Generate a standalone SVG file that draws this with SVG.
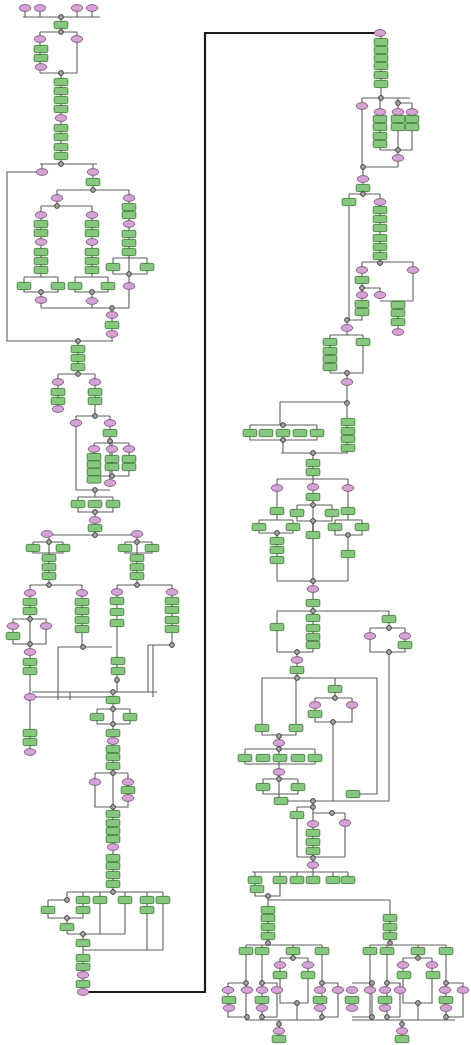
<svg xmlns="http://www.w3.org/2000/svg" xmlns:xlink="http://www.w3.org/1999/xlink" width="471" height="1045" viewBox="0 0 471 1045">
<style>
.c{fill:none;stroke:#5e5e5e;stroke-width:1.1}
.k{fill:none;stroke:#1a1a1a;stroke-width:2.2}
.t{fill:#86c67e;stroke:#3e7d39;stroke-width:0.9}
.e{fill:#d6a4d4;stroke:#7a5a7e;stroke-width:0.9}
.g{fill:#a8a8a8;stroke:#333;stroke-width:0.9}
</style>
<defs>
<rect id="T" class="t" x="-6.8" y="-3.6" width="13.6" height="7.2" rx="1.2"/>
<ellipse id="E" class="e" rx="5.8" ry="3.4"/>
<circle id="G" class="g" r="2.4"/>
</defs>
<rect width="471" height="1045" fill="#fff"/>
<g id="connectors">
<path class="c" d="M25,8V17M40,8V17M77,8V17M92,8V17M23,17H100M61,17V32M40,32H77M40,32V73M77,32V73M40,73H77M61,73V164M40,164H97M42,164V172M93,164V190"/>
<path class="c" d="M42,172H7V341H113"/>
<path class="c" d="M57,190H129M57,190V206M41,206H92M41,206V277M92,206V277M24,277H58M24,277V292H58V277M41,292V308M75,277H108M75,277V292H108V277M92,292V308M41,308H129M129,190V308M113,258H147M113,258V274H147V258M112,308V341M78,341V374"/>
<path class="c" d="M58,374H95M58,374V409M95,374V416M76,416H110M76,416V490M110,416V483M94,443H129M94,443V479M112,440V476M129,443V476M94,476H129M76,490H110M95,490V497M78,497H113M78,497V512H113V497M95,512V535"/>
<path class="c" d="M47,535H137M49,535V585M33,542H63M33,542V553H63V542M30,585H82M30,585V697M82,585V647M13,619H46M13,619V644H46V619M137,535V585M125,542H152M125,542V553H152V542M117,585H172M117,585V692M172,585V645M148,645H172M58,647H112M58,647V700M148,645V692M153,645V697M32,692H157M32,697H113M70,692V700M113,692V892M30,697V753"/>
<path class="c" d="M97,709H130M97,709V724H130V709M95,773H128M95,773V807H128V773M67,892H163M67,892V900M83,892V900M100,892V934M125,892V934M147,892V950M163,892V950M48,900H67M48,900V918H83V900M67,918V934M67,934H125M83,934V992M83,950H163"/>
<path class="k" d="M82,992H205V33H379"/>
<path class="c" d="M381,33V99M362,98H410M362,98V167M380,98V150M398,98V150M412,103V150M398,103H412M380,150H412M398,150V167M362,167H398M363,167V194M349,194H380M349,194V320M380,194V262M362,262H413M362,262V312M413,262V301M380,301H413M398,301V332M362,288H380V295M347,320H362V312M347,320V335M330,335H363M330,335V373M363,335V373M330,373H363M347,373V403"/>
<path class="c" d="M280,402H347M280,402V425M347,403V453M250,425H317M250,425V440H317V425M283,440V453M281,453H348M313,453V479M277,479H348M277,479V520M348,479V520M313,479V535M297,505H332M297,505V521H332V505M259,520H293M259,520V533H293V520M277,533V581M335,520H362M335,520V535H362V520M348,535V581"/>
<path class="c" d="M313,521V581M277,581H348M313,581V652M277,611H389M277,611V652H313M297,652V678M389,611V628M370,628H405M370,628V652H405V628M389,652V801"/>
<path class="c" d="M262,678H377M262,678V735H296V678M377,678V794H353M335,678V698M315,698H352M315,698V722H352V698M333,722V801M279,735V801M245,749H315M245,749V764H315V749M263,779H298M263,779V794H298V779M281,801H389M313,801V872M297,807H313M297,807V857M313,813H345M345,813V857M297,857H345M252,872H348"/>
<path class="c" d="M255,872V896H280V872M297,872V880M313,872V880M333,872V880M348,872V880M268,896V943M268,900H390M390,900V943M246,945H322M246,945V1020M262,945V1020M293,945V958M322,945V1020M280,958H308M280,958V975M308,958V975M280,975V1003H308V975M297,1003V1020M228,983H247M228,983V1017H247M262,983H277V1017H262M320,983H338V1017H320M246,1020H322M279,1020V1039"/>
<path class="c" d="M370,945H446M370,945V1020M387,945V1020M418,945V958M446,945V1020M403,958H432M403,958V1003H432V958M418,1003V1020M352,983H372V1017H352M385,983H400V1017H385M445,983H463V1017H445M352,1020H455M402,1020V1039"/>
</g>
<g id="n1"><use href="#E" x="25" y="8"/></g>
<g id="n2"><use href="#E" x="40" y="8"/></g>
<g id="n3"><use href="#E" x="77" y="8"/></g>
<g id="n4"><use href="#E" x="92" y="8"/></g>
<g id="n5"><use href="#G" x="61" y="17"/></g>
<g id="n6"><use href="#T" x="61" y="25"/></g>
<g id="n7"><use href="#G" x="61" y="32"/></g>
<g id="n8"><use href="#E" x="40" y="39"/></g>
<g id="n9"><use href="#T" x="41" y="49"/></g>
<g id="n10"><use href="#T" x="41" y="58"/></g>
<g id="n11"><use href="#E" x="41" y="67"/></g>
<g id="n12"><use href="#E" x="77" y="39"/></g>
<g id="n13"><use href="#G" x="61" y="73"/></g>
<g id="n14"><use href="#T" x="61" y="82"/></g>
<g id="n15"><use href="#T" x="61" y="91"/></g>
<g id="n16"><use href="#T" x="61" y="100"/></g>
<g id="n17"><use href="#T" x="61" y="109"/></g>
<g id="n18"><use href="#E" x="61" y="118"/></g>
<g id="n19"><use href="#T" x="61" y="128"/></g>
<g id="n20"><use href="#T" x="61" y="137"/></g>
<g id="n21"><use href="#T" x="61" y="147"/></g>
<g id="n22"><use href="#T" x="61" y="156"/></g>
<g id="n23"><use href="#G" x="61" y="164"/></g>
<g id="n24"><use href="#E" x="42" y="172"/></g>
<g id="n25"><use href="#E" x="93" y="172"/></g>
<g id="n26"><use href="#T" x="93" y="182"/></g>
<g id="n27"><use href="#G" x="93" y="190"/></g>
<g id="n28"><use href="#E" x="57" y="198"/></g>
<g id="n29"><use href="#G" x="57" y="206"/></g>
<g id="n30"><use href="#E" x="41" y="215"/></g>
<g id="n31"><use href="#T" x="41" y="224"/></g>
<g id="n32"><use href="#T" x="41" y="233"/></g>
<g id="n33"><use href="#E" x="41" y="242"/></g>
<g id="n34"><use href="#T" x="41" y="252"/></g>
<g id="n35"><use href="#T" x="41" y="261"/></g>
<g id="n36"><use href="#T" x="41" y="270"/></g>
<g id="n37"><use href="#T" x="24" y="286"/></g>
<g id="n38"><use href="#T" x="58" y="286"/></g>
<g id="n39"><use href="#G" x="41" y="292"/></g>
<g id="n40"><use href="#E" x="41" y="300"/></g>
<g id="n41"><use href="#E" x="92" y="215"/></g>
<g id="n42"><use href="#T" x="92" y="224"/></g>
<g id="n43"><use href="#T" x="92" y="233"/></g>
<g id="n44"><use href="#E" x="92" y="242"/></g>
<g id="n45"><use href="#T" x="92" y="252"/></g>
<g id="n46"><use href="#T" x="92" y="261"/></g>
<g id="n47"><use href="#T" x="92" y="270"/></g>
<g id="n48"><use href="#T" x="75" y="286"/></g>
<g id="n49"><use href="#T" x="108" y="286"/></g>
<g id="n50"><use href="#G" x="92" y="292"/></g>
<g id="n51"><use href="#E" x="92" y="301"/></g>
<g id="n52"><use href="#E" x="129" y="198"/></g>
<g id="n53"><use href="#T" x="129" y="207"/></g>
<g id="n54"><use href="#T" x="129" y="215"/></g>
<g id="n55"><use href="#E" x="129" y="224"/></g>
<g id="n56"><use href="#T" x="129" y="234"/></g>
<g id="n57"><use href="#T" x="129" y="243"/></g>
<g id="n58"><use href="#T" x="129" y="252"/></g>
<g id="n59"><use href="#T" x="113" y="267"/></g>
<g id="n60"><use href="#T" x="147" y="267"/></g>
<g id="n61"><use href="#G" x="129" y="274"/></g>
<g id="n62"><use href="#E" x="129" y="286"/></g>
<g id="n63"><use href="#G" x="112" y="308"/></g>
<g id="n64"><use href="#E" x="112" y="315"/></g>
<g id="n65"><use href="#T" x="112" y="325"/></g>
<g id="n66"><use href="#E" x="112" y="334"/></g>
<g id="n67"><use href="#G" x="78" y="341"/></g>
<g id="n68"><use href="#T" x="78" y="349"/></g>
<g id="n69"><use href="#T" x="78" y="358"/></g>
<g id="n70"><use href="#T" x="78" y="367"/></g>
<g id="n71"><use href="#G" x="78" y="374"/></g>
<g id="n72"><use href="#E" x="58" y="382"/></g>
<g id="n73"><use href="#T" x="58" y="392"/></g>
<g id="n74"><use href="#T" x="58" y="401"/></g>
<g id="n75"><use href="#E" x="58" y="409"/></g>
<g id="n76"><use href="#E" x="95" y="382"/></g>
<g id="n77"><use href="#T" x="95" y="392"/></g>
<g id="n78"><use href="#T" x="95" y="401"/></g>
<g id="n79"><use href="#G" x="95" y="416"/></g>
<g id="n80"><use href="#E" x="76" y="423"/></g>
<g id="n81"><use href="#E" x="110" y="423"/></g>
<g id="n82"><use href="#T" x="110" y="433"/></g>
<g id="n83"><use href="#G" x="110" y="441"/></g>
<g id="n84"><use href="#E" x="94" y="449"/></g>
<g id="n85"><use href="#E" x="112" y="449"/></g>
<g id="n86"><use href="#E" x="129" y="449"/></g>
<g id="n87"><use href="#T" x="94" y="457"/></g>
<g id="n88"><use href="#T" x="94" y="464.5"/></g>
<g id="n89"><use href="#T" x="94" y="472"/></g>
<g id="n90"><use href="#T" x="94" y="479.5"/></g>
<g id="n91"><use href="#T" x="112" y="459"/></g>
<g id="n92"><use href="#T" x="112" y="467"/></g>
<g id="n93"><use href="#T" x="129" y="459"/></g>
<g id="n94"><use href="#T" x="129" y="467"/></g>
<g id="n95"><use href="#G" x="112" y="476"/></g>
<g id="n96"><use href="#E" x="110" y="483"/></g>
<g id="n97"><use href="#G" x="95" y="490"/></g>
<g id="n98"><use href="#T" x="78" y="504"/></g>
<g id="n99"><use href="#T" x="95" y="504"/></g>
<g id="n100"><use href="#T" x="113" y="504"/></g>
<g id="n101"><use href="#G" x="95" y="512"/></g>
<g id="n102"><use href="#E" x="95" y="520"/></g>
<g id="n103"><use href="#T" x="95" y="528"/></g>
<g id="n104"><use href="#G" x="95" y="535"/></g>
<g id="n105"><use href="#E" x="47" y="534"/></g>
<g id="n106"><use href="#G" x="49" y="542"/></g>
<g id="n107"><use href="#T" x="33" y="548"/></g>
<g id="n108"><use href="#T" x="63" y="548"/></g>
<g id="n109"><use href="#T" x="49" y="558"/></g>
<g id="n110"><use href="#T" x="49" y="567"/></g>
<g id="n111"><use href="#T" x="49" y="576"/></g>
<g id="n112"><use href="#G" x="49" y="585"/></g>
<g id="n113"><use href="#E" x="30" y="593"/></g>
<g id="n114"><use href="#T" x="30" y="602"/></g>
<g id="n115"><use href="#T" x="30" y="611"/></g>
<g id="n116"><use href="#G" x="30" y="619"/></g>
<g id="n117"><use href="#E" x="13" y="626"/></g>
<g id="n118"><use href="#E" x="46" y="626"/></g>
<g id="n119"><use href="#T" x="13" y="636"/></g>
<g id="n120"><use href="#G" x="30" y="644"/></g>
<g id="n121"><use href="#E" x="30" y="652"/></g>
<g id="n122"><use href="#T" x="30" y="662"/></g>
<g id="n123"><use href="#T" x="30" y="671"/></g>
<g id="n124"><use href="#E" x="30" y="697"/></g>
<g id="n125"><use href="#T" x="30" y="733"/></g>
<g id="n126"><use href="#T" x="30" y="742"/></g>
<g id="n127"><use href="#E" x="30" y="752"/></g>
<g id="n128"><use href="#E" x="82" y="593"/></g>
<g id="n129"><use href="#T" x="82" y="602"/></g>
<g id="n130"><use href="#T" x="82" y="611"/></g>
<g id="n131"><use href="#T" x="82" y="620"/></g>
<g id="n132"><use href="#T" x="82" y="629"/></g>
<g id="n133"><use href="#G" x="83" y="647"/></g>
<g id="n134"><use href="#E" x="137" y="534"/></g>
<g id="n135"><use href="#G" x="137" y="542"/></g>
<g id="n136"><use href="#T" x="125" y="548"/></g>
<g id="n137"><use href="#T" x="152" y="548"/></g>
<g id="n138"><use href="#T" x="137" y="558"/></g>
<g id="n139"><use href="#T" x="137" y="567"/></g>
<g id="n140"><use href="#T" x="137" y="576"/></g>
<g id="n141"><use href="#G" x="137" y="585"/></g>
<g id="n142"><use href="#E" x="117" y="592"/></g>
<g id="n143"><use href="#T" x="117" y="601"/></g>
<g id="n144"><use href="#T" x="117" y="612"/></g>
<g id="n145"><use href="#T" x="117" y="623"/></g>
<g id="n146"><use href="#T" x="118" y="661"/></g>
<g id="n147"><use href="#T" x="118" y="671"/></g>
<g id="n148"><use href="#G" x="117" y="680"/></g>
<g id="n149"><use href="#E" x="172" y="592"/></g>
<g id="n150"><use href="#T" x="172" y="601"/></g>
<g id="n151"><use href="#T" x="172" y="610"/></g>
<g id="n152"><use href="#T" x="172" y="620"/></g>
<g id="n153"><use href="#T" x="172" y="629"/></g>
<g id="n154"><use href="#G" x="172" y="645"/></g>
<g id="n155"><use href="#G" x="113" y="692"/></g>
<g id="n156"><use href="#T" x="113" y="700"/></g>
<g id="n157"><use href="#G" x="113" y="709"/></g>
<g id="n158"><use href="#T" x="97" y="717"/></g>
<g id="n159"><use href="#T" x="130" y="717"/></g>
<g id="n160"><use href="#G" x="113" y="724"/></g>
<g id="n161"><use href="#T" x="113" y="733"/></g>
<g id="n162"><use href="#E" x="113" y="741"/></g>
<g id="n163"><use href="#T" x="113" y="749"/></g>
<g id="n164"><use href="#T" x="113" y="757"/></g>
<g id="n165"><use href="#T" x="113" y="766"/></g>
<g id="n166"><use href="#G" x="113" y="773"/></g>
<g id="n167"><use href="#E" x="95" y="782"/></g>
<g id="n168"><use href="#E" x="128" y="782"/></g>
<g id="n169"><use href="#T" x="128" y="790"/></g>
<g id="n170"><use href="#E" x="128" y="798"/></g>
<g id="n171"><use href="#G" x="113" y="807"/></g>
<g id="n172"><use href="#T" x="113" y="814"/></g>
<g id="n173"><use href="#T" x="113" y="823"/></g>
<g id="n174"><use href="#T" x="113" y="831"/></g>
<g id="n175"><use href="#T" x="113" y="839"/></g>
<g id="n176"><use href="#E" x="113" y="847"/></g>
<g id="n177"><use href="#T" x="113" y="858"/></g>
<g id="n178"><use href="#T" x="113" y="866"/></g>
<g id="n179"><use href="#T" x="113" y="875"/></g>
<g id="n180"><use href="#T" x="113" y="884"/></g>
<g id="n181"><use href="#G" x="113" y="892"/></g>
<g id="n182"><use href="#G" x="67" y="900"/></g>
<g id="n183"><use href="#T" x="83" y="900"/></g>
<g id="n184"><use href="#T" x="100" y="900"/></g>
<g id="n185"><use href="#T" x="125" y="900"/></g>
<g id="n186"><use href="#T" x="147" y="900"/></g>
<g id="n187"><use href="#T" x="163" y="900"/></g>
<g id="n188"><use href="#T" x="48" y="910"/></g>
<g id="n189"><use href="#T" x="83" y="910"/></g>
<g id="n190"><use href="#G" x="67" y="918"/></g>
<g id="n191"><use href="#T" x="67" y="927"/></g>
<g id="n192"><use href="#T" x="147" y="910"/></g>
<g id="n193"><use href="#G" x="83" y="934"/></g>
<g id="n194"><use href="#T" x="83" y="943"/></g>
<g id="n195"><use href="#T" x="83" y="958"/></g>
<g id="n196"><use href="#T" x="83" y="967"/></g>
<g id="n197"><use href="#E" x="83" y="975"/></g>
<g id="n198"><use href="#T" x="83" y="984"/></g>
<g id="n199"><use href="#E" x="83" y="992"/></g>
<g id="r1"><use href="#E" x="380" y="33"/></g>
<g id="r2"><use href="#T" x="381" y="42"/></g>
<g id="r3"><use href="#T" x="381" y="50"/></g>
<g id="r4"><use href="#T" x="381" y="58"/></g>
<g id="r5"><use href="#T" x="381" y="66"/></g>
<g id="r6"><use href="#T" x="381" y="75"/></g>
<g id="r7"><use href="#T" x="381" y="84"/></g>
<g id="r8"><use href="#G" x="381" y="98"/></g>
<g id="r9"><use href="#E" x="362" y="106"/></g>
<g id="r10"><use href="#E" x="380" y="112"/></g>
<g id="r11"><use href="#T" x="380" y="119"/></g>
<g id="r12"><use href="#T" x="380" y="127"/></g>
<g id="r13"><use href="#T" x="380" y="136"/></g>
<g id="r14"><use href="#T" x="380" y="144"/></g>
<g id="r15"><use href="#G" x="398" y="103"/></g>
<g id="r16"><use href="#E" x="398" y="112"/></g>
<g id="r17"><use href="#T" x="398" y="119"/></g>
<g id="r18"><use href="#T" x="398" y="127"/></g>
<g id="r19"><use href="#E" x="412" y="112"/></g>
<g id="r20"><use href="#T" x="412" y="119"/></g>
<g id="r21"><use href="#T" x="412" y="127"/></g>
<g id="r22"><use href="#G" x="398" y="150"/></g>
<g id="r23"><use href="#E" x="398" y="158"/></g>
<g id="r24"><use href="#G" x="363" y="167"/></g>
<g id="r25"><use href="#E" x="363" y="179"/></g>
<g id="r26"><use href="#T" x="363" y="188"/></g>
<g id="r27"><use href="#G" x="363" y="194"/></g>
<g id="r28"><use href="#T" x="349" y="202"/></g>
<g id="r29"><use href="#E" x="380" y="202"/></g>
<g id="r30"><use href="#T" x="380" y="210"/></g>
<g id="r31"><use href="#T" x="380" y="219"/></g>
<g id="r32"><use href="#T" x="380" y="228"/></g>
<g id="r33"><use href="#T" x="380" y="238"/></g>
<g id="r34"><use href="#T" x="380" y="247"/></g>
<g id="r35"><use href="#T" x="380" y="256"/></g>
<g id="r36"><use href="#G" x="380" y="263"/></g>
<g id="r37"><use href="#E" x="362" y="270"/></g>
<g id="r38"><use href="#T" x="362" y="280"/></g>
<g id="r39"><use href="#G" x="362" y="288"/></g>
<g id="r40"><use href="#E" x="362" y="295"/></g>
<g id="r41"><use href="#E" x="380" y="295"/></g>
<g id="r42"><use href="#T" x="362" y="304"/></g>
<g id="r43"><use href="#T" x="362" y="312"/></g>
<g id="r44"><use href="#E" x="413" y="270"/></g>
<g id="r45"><use href="#T" x="398" y="305"/></g>
<g id="r46"><use href="#T" x="398" y="313"/></g>
<g id="r47"><use href="#T" x="398" y="322"/></g>
<g id="r48"><use href="#E" x="398" y="332"/></g>
<g id="r49"><use href="#G" x="347" y="320"/></g>
<g id="r50"><use href="#E" x="347" y="328"/></g>
<g id="r51"><use href="#T" x="330" y="342"/></g>
<g id="r52"><use href="#T" x="363" y="342"/></g>
<g id="r53"><use href="#T" x="330" y="351"/></g>
<g id="r54"><use href="#T" x="330" y="359"/></g>
<g id="r55"><use href="#T" x="330" y="367"/></g>
<g id="r56"><use href="#G" x="347" y="373"/></g>
<g id="r57"><use href="#E" x="347" y="382"/></g>
<g id="r58"><use href="#G" x="347" y="403"/></g>
<g id="r59"><use href="#G" x="283" y="425"/></g>
<g id="r60"><use href="#T" x="250" y="433"/></g>
<g id="r61"><use href="#T" x="266" y="433"/></g>
<g id="r62"><use href="#T" x="283" y="433"/></g>
<g id="r63"><use href="#T" x="300" y="433"/></g>
<g id="r64"><use href="#T" x="317" y="433"/></g>
<g id="r65"><use href="#G" x="283" y="440"/></g>
<g id="r66"><use href="#T" x="348" y="422"/></g>
<g id="r67"><use href="#T" x="348" y="431"/></g>
<g id="r68"><use href="#T" x="348" y="439"/></g>
<g id="r69"><use href="#T" x="348" y="448"/></g>
<g id="r70"><use href="#G" x="313" y="453"/></g>
<g id="r71"><use href="#T" x="313" y="463"/></g>
<g id="r72"><use href="#T" x="313" y="472"/></g>
<g id="r73"><use href="#E" x="277" y="488"/></g>
<g id="r74"><use href="#E" x="313" y="487"/></g>
<g id="r75"><use href="#E" x="348" y="488"/></g>
<g id="r76"><use href="#T" x="313" y="497"/></g>
<g id="r77"><use href="#G" x="313" y="505"/></g>
<g id="r78"><use href="#T" x="297" y="513"/></g>
<g id="r79"><use href="#T" x="332" y="513"/></g>
<g id="r80"><use href="#T" x="277" y="511"/></g>
<g id="r81"><use href="#T" x="348" y="511"/></g>
<g id="r82"><use href="#G" x="313" y="521"/></g>
<g id="r83"><use href="#T" x="259" y="527"/></g>
<g id="r84"><use href="#T" x="293" y="527"/></g>
<g id="r85"><use href="#G" x="277" y="533"/></g>
<g id="r86"><use href="#T" x="335" y="527"/></g>
<g id="r87"><use href="#T" x="362" y="527"/></g>
<g id="r88"><use href="#G" x="348" y="535"/></g>
<g id="r89"><use href="#T" x="313" y="535"/></g>
<g id="r90"><use href="#T" x="277" y="541"/></g>
<g id="r91"><use href="#T" x="277" y="550"/></g>
<g id="r92"><use href="#T" x="277" y="560"/></g>
<g id="r93"><use href="#T" x="348" y="554"/></g>
<g id="r94"><use href="#G" x="313" y="581"/></g>
<g id="r95"><use href="#E" x="313" y="589"/></g>
<g id="r96"><use href="#T" x="313" y="603"/></g>
<g id="r97"><use href="#G" x="313" y="611"/></g>
<g id="r98"><use href="#T" x="277" y="627"/></g>
<g id="r99"><use href="#T" x="313" y="618"/></g>
<g id="r100"><use href="#T" x="313" y="628"/></g>
<g id="r101"><use href="#T" x="313" y="637"/></g>
<g id="r102"><use href="#T" x="313" y="645"/></g>
<g id="r103"><use href="#G" x="297" y="652"/></g>
<g id="r104"><use href="#E" x="297" y="660"/></g>
<g id="r105"><use href="#T" x="297" y="670"/></g>
<g id="r106"><use href="#G" x="297" y="678"/></g>
<g id="r107"><use href="#T" x="389" y="619"/></g>
<g id="r108"><use href="#G" x="389" y="628"/></g>
<g id="r109"><use href="#E" x="370" y="636"/></g>
<g id="r110"><use href="#E" x="405" y="636"/></g>
<g id="r111"><use href="#T" x="405" y="645"/></g>
<g id="r112"><use href="#G" x="389" y="652"/></g>
<g id="r113"><use href="#T" x="335" y="689"/></g>
<g id="r114"><use href="#G" x="335" y="698"/></g>
<g id="r115"><use href="#E" x="315" y="705"/></g>
<g id="r116"><use href="#E" x="352" y="705"/></g>
<g id="r117"><use href="#T" x="315" y="714"/></g>
<g id="r118"><use href="#G" x="333" y="722"/></g>
<g id="r119"><use href="#T" x="262" y="728"/></g>
<g id="r120"><use href="#T" x="296" y="728"/></g>
<g id="r121"><use href="#G" x="279" y="736"/></g>
<g id="r122"><use href="#E" x="279" y="743"/></g>
<g id="r123"><use href="#G" x="279" y="749"/></g>
<g id="r124"><use href="#T" x="245" y="758"/></g>
<g id="r125"><use href="#T" x="263" y="758"/></g>
<g id="r126"><use href="#T" x="280" y="758"/></g>
<g id="r127"><use href="#T" x="298" y="758"/></g>
<g id="r128"><use href="#T" x="315" y="758"/></g>
<g id="r129"><use href="#E" x="279" y="772"/></g>
<g id="r130"><use href="#G" x="279" y="779"/></g>
<g id="r131"><use href="#T" x="263" y="787"/></g>
<g id="r132"><use href="#T" x="298" y="787"/></g>
<g id="r133"><use href="#T" x="281" y="801"/></g>
<g id="r134"><use href="#G" x="313" y="801"/></g>
<g id="r135"><use href="#T" x="353" y="794"/></g>
<g id="r136"><use href="#G" x="313" y="807"/></g>
<g id="r137"><use href="#T" x="297" y="815"/></g>
<g id="r138"><use href="#G" x="332" y="813"/></g>
<g id="r139"><use href="#E" x="313" y="824"/></g>
<g id="r140"><use href="#E" x="345" y="823"/></g>
<g id="r141"><use href="#T" x="313" y="833"/></g>
<g id="r142"><use href="#T" x="313" y="842"/></g>
<g id="r143"><use href="#T" x="313" y="851"/></g>
<g id="r144"><use href="#G" x="313" y="858"/></g>
<g id="r145"><use href="#E" x="313" y="865"/></g>
<g id="r146"><use href="#T" x="255" y="880"/></g>
<g id="r147"><use href="#T" x="280" y="880"/></g>
<g id="r148"><use href="#T" x="297" y="880"/></g>
<g id="r149"><use href="#T" x="313" y="880"/></g>
<g id="r150"><use href="#T" x="333" y="880"/></g>
<g id="r151"><use href="#T" x="348" y="880"/></g>
<g id="r152"><use href="#T" x="257" y="889"/></g>
<g id="r153"><use href="#G" x="268" y="896"/></g>
<g id="r154"><use href="#T" x="268" y="910"/></g>
<g id="r155"><use href="#T" x="268" y="918"/></g>
<g id="r156"><use href="#T" x="268" y="927"/></g>
<g id="r157"><use href="#T" x="268" y="936"/></g>
<g id="r158"><use href="#G" x="268" y="943"/></g>
<g id="r159"><use href="#T" x="246" y="951"/></g>
<g id="r160"><use href="#T" x="262" y="951"/></g>
<g id="r161"><use href="#T" x="293" y="951"/></g>
<g id="r162"><use href="#T" x="322" y="951"/></g>
<g id="r163"><use href="#G" x="293" y="958"/></g>
<g id="r164"><use href="#E" x="280" y="965"/></g>
<g id="r165"><use href="#E" x="308" y="965"/></g>
<g id="r166"><use href="#T" x="280" y="975"/></g>
<g id="r167"><use href="#T" x="308" y="975"/></g>
<g id="r168"><use href="#G" x="246" y="983"/></g>
<g id="r169"><use href="#G" x="262" y="983"/></g>
<g id="r170"><use href="#G" x="322" y="983"/></g>
<g id="r171"><use href="#E" x="228" y="990"/></g>
<g id="r172"><use href="#E" x="247" y="990"/></g>
<g id="r173"><use href="#E" x="262" y="990"/></g>
<g id="r174"><use href="#E" x="277" y="990"/></g>
<g id="r175"><use href="#E" x="320" y="990"/></g>
<g id="r176"><use href="#E" x="338" y="990"/></g>
<g id="r177"><use href="#T" x="229" y="1000"/></g>
<g id="r178"><use href="#T" x="262" y="1000"/></g>
<g id="r179"><use href="#T" x="320" y="1000"/></g>
<g id="r180"><use href="#E" x="229" y="1008"/></g>
<g id="r181"><use href="#E" x="262" y="1008"/></g>
<g id="r182"><use href="#E" x="320" y="1008"/></g>
<g id="r183"><use href="#G" x="297" y="1003"/></g>
<g id="r184"><use href="#G" x="247" y="1017"/></g>
<g id="r185"><use href="#G" x="262" y="1017"/></g>
<g id="r186"><use href="#G" x="322" y="1017"/></g>
<g id="r187"><use href="#G" x="279" y="1024"/></g>
<g id="r188"><use href="#E" x="279" y="1031"/></g>
<g id="r189"><use href="#T" x="279" y="1039"/></g>
<g id="r190"><use href="#T" x="390" y="918"/></g>
<g id="r191"><use href="#T" x="390" y="927"/></g>
<g id="r192"><use href="#T" x="390" y="936"/></g>
<g id="r193"><use href="#G" x="390" y="943"/></g>
<g id="r194"><use href="#T" x="370" y="951"/></g>
<g id="r195"><use href="#T" x="387" y="951"/></g>
<g id="r196"><use href="#T" x="418" y="951"/></g>
<g id="r197"><use href="#T" x="446" y="951"/></g>
<g id="r198"><use href="#G" x="418" y="958"/></g>
<g id="r199"><use href="#E" x="403" y="965"/></g>
<g id="r200"><use href="#E" x="432" y="965"/></g>
<g id="r201"><use href="#T" x="404" y="975"/></g>
<g id="r202"><use href="#T" x="433" y="975"/></g>
<g id="r203"><use href="#G" x="418" y="1003"/></g>
<g id="r204"><use href="#G" x="372" y="983"/></g>
<g id="r205"><use href="#G" x="387" y="983"/></g>
<g id="r206"><use href="#G" x="446" y="983"/></g>
<g id="r207"><use href="#E" x="352" y="990"/></g>
<g id="r208"><use href="#E" x="370" y="990"/></g>
<g id="r209"><use href="#E" x="385" y="990"/></g>
<g id="r210"><use href="#E" x="400" y="990"/></g>
<g id="r211"><use href="#E" x="445" y="990"/></g>
<g id="r212"><use href="#E" x="463" y="990"/></g>
<g id="r213"><use href="#T" x="352" y="1000"/></g>
<g id="r214"><use href="#T" x="385" y="1000"/></g>
<g id="r215"><use href="#T" x="446" y="1000"/></g>
<g id="r216"><use href="#E" x="352" y="1008"/></g>
<g id="r217"><use href="#E" x="385" y="1008"/></g>
<g id="r218"><use href="#E" x="446" y="1008"/></g>
<g id="r219"><use href="#G" x="372" y="1017"/></g>
<g id="r220"><use href="#G" x="387" y="1017"/></g>
<g id="r221"><use href="#G" x="446" y="1017"/></g>
<g id="r222"><use href="#G" x="402" y="1024"/></g>
<g id="r223"><use href="#E" x="402" y="1031"/></g>
<g id="r224"><use href="#T" x="402" y="1039"/></g>
</svg>
